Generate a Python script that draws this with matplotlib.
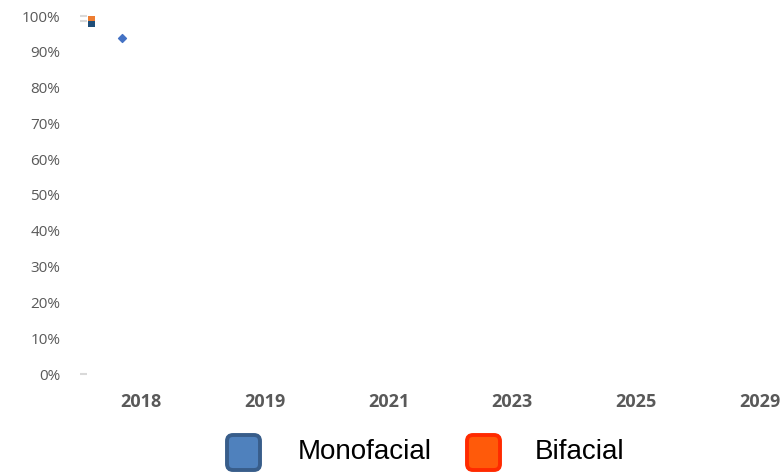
import matplotlib.pyplot as plt
from matplotlib.patches import FancyBboxPatch
from matplotlib.ticker import PercentFormatter

# data
years = ['2018', '2019', '2021', '2023', '2025', '2029']
series = ['Monofacial', 'Bifacial']
bar_floor = [97.0]        # lowest visible edge of the stacked bar
mono_top = [98.6]
bifacial_share = [1.5]
marker_value = [93.9]
grid_levels = [0, 98.6, 100]
yticks = list(range(0, 101, 10))

W, H = 781, 472
fig = plt.figure(figsize=(W / 100, H / 100), dpi=100)

# main axes: 0% at y=374 px, 100% at y=16 px, 2018 at x=141 px, step 123.8 px
x0_px, step = 141, 123.8
ax = fig.add_axes([70 / W, (H - 374) / H, (W - 70) / W, 358 / H])
ax.set_xlim((70 - x0_px) / step, (W - x0_px) / step)
ax.set_ylim(0, 100)
for s in ax.spines.values():
    s.set_visible(False)

ax.set_xticks(range(len(years)))
ax.set_xticklabels(years, fontfamily='Open Sans', fontweight='bold', fontsize=13, color='#595959')
ax.set_yticks(yticks)
ax.yaxis.set_major_formatter(PercentFormatter(decimals=0))
for t in ax.get_yticklabels():
    t.set_fontfamily('Open Sans')
    t.set_fontsize(11)
    t.set_color('#595959')
ax.tick_params(axis='both', length=0)
ax.tick_params(axis='y', pad=7)
ax.tick_params(axis='x', pad=14)

# collapsed plot region left of the first category
bar_x = (91.3 - x0_px) / step
bar_w = 7.3 / step
mark_x = (122 - x0_px) / step
stub_l, stub_r = (80 - x0_px) / step, (87 - x0_px) / step

ax.hlines(grid_levels, stub_l, stub_r, color='#d9d9d9', lw=1.5, clip_on=False)
ax.bar([bar_x], [m - b for m, b in zip(mono_top, bar_floor)], width=bar_w, bottom=bar_floor,
       color='#1f4e79', clip_on=False)
ax.bar([bar_x], bifacial_share, width=bar_w, bottom=mono_top, color='#ed7d31', clip_on=False)
ax.scatter([mark_x], marker_value, marker='D', s=16, color='#4472c4', clip_on=False, zorder=3)

# legend drawn in pixel coordinates
lg = fig.add_axes([0, 0, 1, 1], zorder=5)
lg.set_xlim(0, W)
lg.set_ylim(H, 0)
lg.axis('off')
lg.patch.set_alpha(0)
fills = ['#4f81bd', '#ff5a0a']
edges = ['#385d8a', '#ff2a00']
box_x = [227, 467]
text_cx = [365, 580]
for name, fc, ec, bx, tx in zip(series, fills, edges, box_x, text_cx):
    lg.add_patch(FancyBboxPatch((bx, 435), 33, 35, boxstyle='round,pad=0,rounding_size=6',
                                fc=fc, ec=ec, lw=2.8))
    lg.text(tx, 452, name, ha='center', va='center', fontsize=20,
            fontfamily='Liberation Sans', color='black')

fig.savefig('out.png', dpi=100)
